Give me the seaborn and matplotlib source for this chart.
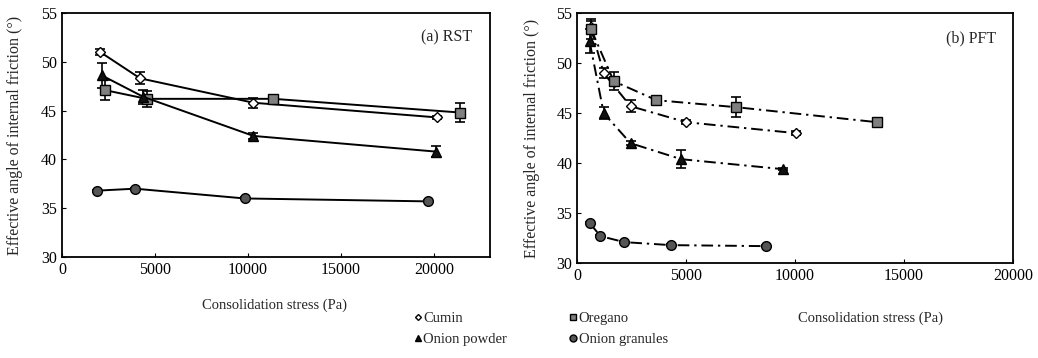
import numpy as np
import pandas as pd
import matplotlib.pyplot as plt
from matplotlib.lines import Line2D
import seaborn as sns

# ---- data: (a) RST ----
rst_cumin_x = [2050, 4200, 10300, 20150]
rst_cumin_y = [51.0, 48.3, 45.8, 44.3]
rst_cumin_e = [0.3, 0.6, 0.5, 0.15]

rst_oregano_x = [2290, 4550, 11370, 21400]
rst_oregano_y = [47.1, 46.2, 46.2, 44.8]
rst_oregano_e = [1.0, 0.8, 0.2, 1.0]

rst_powder_x = [2140, 4380, 10300, 20090]
rst_powder_y = [48.6, 46.4, 42.4, 40.8]
rst_powder_e = [1.3, 0.7, 0.3, 0.6]

rst_gran_x = [1910, 3930, 9820, 19680]
rst_gran_y = [36.8, 37.0, 36.0, 35.7]
rst_gran_e = [0.1, 0.1, 0.1, 0.1]

# ---- data: (b) PFT ----
pft_cumin_x = [620, 1220, 2450, 5000, 10060]
pft_cumin_y = [53.6, 49.0, 45.7, 44.1, 43.0]
pft_cumin_e = [0.6, 0.5, 0.6, 0.2, 0.2]

pft_oregano_x = [640, 1680, 3640, 7310, 13760]
pft_oregano_y = [53.4, 48.2, 46.3, 45.6, 44.1]
pft_oregano_e = [1.0, 0.9, 0.3, 1.0, 0.2]

pft_powder_x = [570, 1220, 2450, 4770, 9450]
pft_powder_y = [52.2, 45.0, 42.0, 40.4, 39.4]
pft_powder_e = [1.2, 0.6, 0.2, 0.9, 0.1]

pft_gran_x = [580, 1070, 2170, 4310, 8670]
pft_gran_y = [34.0, 32.7, 32.1, 31.8, 31.7]
pft_gran_e = [0.1, 0.1, 0.1, 0.1, 0.1]

names = ['Cumin', 'Oregano', 'Onion powder', 'Onion granules']
markers = {'Cumin': 'D', 'Oregano': 's', 'Onion powder': '^', 'Onion granules': 'o'}
faces = {'Cumin': 'white', 'Oregano': '#808080', 'Onion powder': '#111111', 'Onion granules': '#555555'}
sizes = {'Cumin': 5, 'Oregano': 7, 'Onion powder': 7, 'Onion granules': 7}

rst = {'Cumin': (rst_cumin_x, rst_cumin_y, rst_cumin_e),
       'Oregano': (rst_oregano_x, rst_oregano_y, rst_oregano_e),
       'Onion powder': (rst_powder_x, rst_powder_y, rst_powder_e),
       'Onion granules': (rst_gran_x, rst_gran_y, rst_gran_e)}
pft = {'Cumin': (pft_cumin_x, pft_cumin_y, pft_cumin_e),
       'Oregano': (pft_oregano_x, pft_oregano_y, pft_oregano_e),
       'Onion powder': (pft_powder_x, pft_powder_y, pft_powder_e),
       'Onion granules': (pft_gran_x, pft_gran_y, pft_gran_e)}

sns.set_style("ticks")
plt.rcParams['font.family'] = ['Liberation Serif', 'DejaVu Serif']

fig = plt.figure(figsize=(10.38, 3.58), dpi=100)
ax1 = fig.add_axes([0.0597, 0.282, 0.412, 0.682])
ax2 = fig.add_axes([0.556, 0.265, 0.420, 0.698])


def draw(ax, data, ls):
    for name in names:
        x, y, e = data[name]
        df = pd.DataFrame({'x': x, 'y': y})
        ax.errorbar(x, y, yerr=e, fmt='none', ecolor='black', elinewidth=1.2,
                    capsize=3.5, capthick=1.2, zorder=2)
        sns.lineplot(data=df, x='x', y='y', ax=ax, sort=False, color='black',
                     linestyle=ls, linewidth=1.4, marker=markers[name],
                     markersize=sizes[name], markerfacecolor=faces[name],
                     markeredgecolor='black', markeredgewidth=1.0, zorder=3)


draw(ax1, rst, '-')
draw(ax2, pft, (0, (6, 2.5, 1.2, 2.5)))

ax1.set_xlim(0, 23000)
ax2.set_xlim(0, 20000)
for ax in (ax1, ax2):
    ax.set_ylim(30, 55)
    ax.set_yticks(np.arange(30, 56, 5))
    ax.set_xticks(np.arange(0, 20001, 5000))
    ax.tick_params(direction='in', length=3, labelsize=11.5, colors='black')
    ax.set_xlabel('')
    ax.set_ylabel('Effective angle of internal friction (°)', fontsize=11.5)
    for s in ax.spines.values():
        s.set_linewidth(1.3)
        s.set_color('black')

ax1.yaxis.set_label_coords(-0.09, 0.5)
ax2.yaxis.set_label_coords(-0.085, 0.5)

ax1.text(0.96, 0.9, '(a) RST', transform=ax1.transAxes, ha='right', va='center', fontsize=11.5)
ax2.text(0.96, 0.9, '(b) PFT', transform=ax2.transAxes, ha='right', va='center', fontsize=11.5)

fig.text(275 / 1038, 1 - 305 / 358, 'Consolidation stress (Pa)', ha='center', va='center', fontsize=10.5)
fig.text(870 / 1038, 1 - 318 / 358, 'Consolidation stress (Pa)', ha='center', va='center', fontsize=10.5)

handles = [Line2D([], [], linestyle='none', marker=markers[n], markersize=sizes[n] - 2,
                  markerfacecolor=faces[n], markeredgecolor='black') for n in names]
fig.legend([handles[0], handles[2], handles[1], handles[3]],
           ['Cumin', 'Onion powder', 'Oregano', 'Onion granules'],
           ncol=2, loc='center left', bbox_to_anchor=(400 / 1038, 1 - 329 / 358),
           frameon=False, fontsize=10.5, handlelength=0.6, handletextpad=0.1,
           columnspacing=4.2, labelspacing=0.5)

plt.savefig('out.png', dpi=100)
